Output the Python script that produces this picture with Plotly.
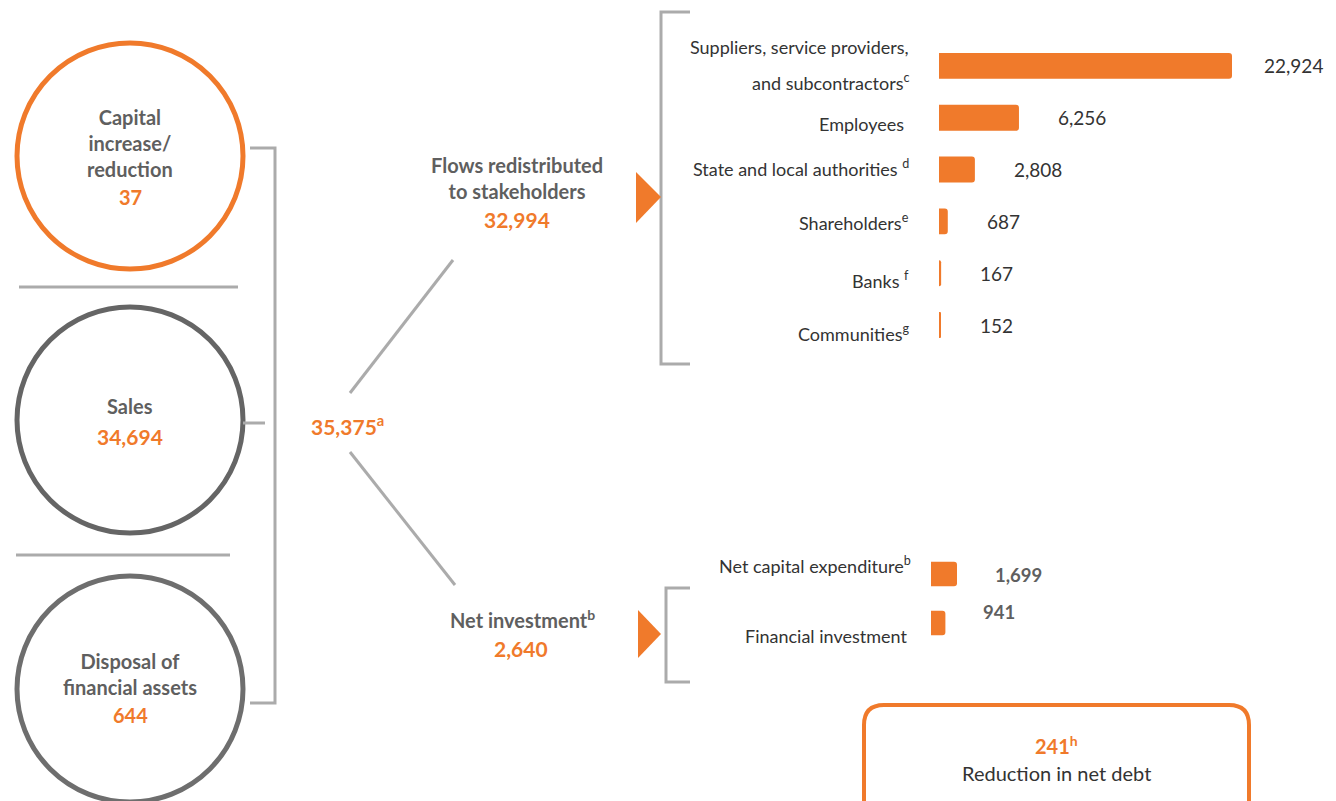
import plotly.graph_objects as go

W, H = 1336, 801
OFF = 8  # page body margin
ORANGE = "#F07A2B"
GRAY_TXT = "#5F5F5F"
DARK_TXT = "#333333"
LINE = "#ABABAB"
FONT = "Lato"

# ---- data
sources = ["Capital<br>increase/<br>reduction", "Sales", "Disposal of<br>financial assets"]
source_values = ["37", "34,694", "644"]
total_value = "35,375"

stake_labels = [
    "Suppliers, service providers,<br>and subcontractors<sup>c</sup>",
    "Employees ",
    "State and local authorities <sup>d</sup>",
    "Shareholders<sup>e</sup>",
    "Banks <sup>f</sup>",
    "Communities<sup>g</sup>",
]
stake_values = [22924, 6256, 2808, 687, 167, 152]
stake_total = "32,994"

invest_labels = ["Net capital expenditure<sup>b</sup>", "Financial investment "]
invest_values = [1699, 941]
invest_total = "2,640"

debt_value = "241"


def fx(px):
    return (px - OFF) / (W - OFF)


def fy(py):
    return 1 - (py - OFF) / (H - OFF)


fig = go.Figure()

# ---- bars (own axes)
fig.add_trace(go.Bar(
    x=stake_values, y=list(range(len(stake_values))), orientation="h",
    marker=dict(color=ORANGE, line=dict(width=0)), width=0.5,
    xaxis="x2", yaxis="y2", hoverinfo="skip",
))
fig.add_trace(go.Bar(
    x=invest_values, y=list(range(len(invest_values))), orientation="h",
    marker=dict(color=ORANGE, line=dict(width=0)), width=0.5,
    xaxis="x3", yaxis="y3", hoverinfo="skip",
))

ann = []
LBL = dict(family=FONT, size=18, color=DARK_TXT)

# stakeholder labels + values
label_dy = [0, -6, 2, -1, -7, -8]
for i, (lab, v) in enumerate(zip(stake_labels, stake_values)):
    lines = lab.split("<br>")
    if len(lines) == 2:
        for ln, dy in zip(lines, [19, -16]):
            ann.append(dict(x=0, y=i, xref="x2", yref="y2", text=ln, showarrow=False,
                            xanchor="right", xshift=-28, yshift=dy, font=LBL))
    else:
        ann.append(dict(x=0, y=i, xref="x2", yref="y2", text=lab, showarrow=False,
                        xanchor="right", xshift=-28, yshift=label_dy[i], font=LBL))
    ann.append(dict(x=v, y=i, xref="x2", yref="y2", text=f"{v:,}", showarrow=False,
                    xanchor="left", xshift=30 if i == 0 else 37,
                    font=dict(family=FONT, size=19, color=DARK_TXT)))

inv_label_dy = [9, -13]
inv_value_dy = [-1, 11]
for i, (lab, v) in enumerate(zip(invest_labels, invest_values)):
    ann.append(dict(x=0, y=i, xref="x3", yref="y3", text=lab, showarrow=False,
                    xanchor="right", xshift=-18, yshift=inv_label_dy[i], font=LBL))
    ann.append(dict(x=v, y=i, xref="x3", yref="y3", text=f"<b>{v:,}</b>", showarrow=False,
                    xanchor="left", xshift=36, yshift=inv_value_dy[i],
                    font=dict(family=FONT, size=18.5, color=GRAY_TXT)))


def txt(x, y, text, size, color, bold=True, **kw):
    t = f"<b>{text}</b>" if bold else text
    d = dict(x=x, y=y, xref="x", yref="y", text=t, showarrow=False,
             font=dict(family=FONT, size=size, color=color))
    d.update(kw)
    ann.append(d)


# source circles
circle_cy = [156, 420, 689]
circle_col = [ORANGE, "#656565", "#6E6E6E"]
label_y = [143, 406, 674]
value_y = [197, 436, 715]
for i in range(3):
    txt(130, label_y[i], sources[i], 20, GRAY_TXT, yanchor="middle")
    txt(130, value_y[i], source_values[i], 21 if i == 1 else 20, ORANGE)

txt(347, 425, total_value + "<sup>a</sup>", 21, ORANGE)
txt(517, 178, "Flows redistributed<br>to stakeholders", 20, GRAY_TXT)
txt(517, 219, stake_total, 21, ORANGE)
txt(522, 619, "Net investment<sup>b</sup>", 20, GRAY_TXT)
txt(521, 648, invest_total, 21, ORANGE)
txt(1056, 745, debt_value + "<sup>h</sup>", 20, ORANGE)
txt(1056, 773, "Reduction in net debt", 20, DARK_TXT, bold=False)

# ---- shapes
shapes = []
for cy, col in zip(circle_cy, circle_col):
    r = 113
    shapes.append(dict(type="circle", xref="x", yref="y", x0=130 - r, x1=130 + r,
                       y0=cy - r, y1=cy + r, line=dict(color=col, width=5)))


def seg(x0, y0, x1, y1, w=3, col=LINE):
    shapes.append(dict(type="line", xref="x", yref="y", x0=x0, y0=y0, x1=x1, y1=y1,
                       line=dict(color=col, width=w)))


seg(19, 287, 238, 287)
seg(16, 555, 230, 555)
# left bracket
shapes.append(dict(type="path", xref="x", yref="y",
                   path="M 250 148 L 275 148 L 275 703 L 250 703",
                   line=dict(color=LINE, width=3)))
seg(243, 423, 265, 423)
# diagonals
seg(350, 393, 453, 260)
seg(350, 452, 455, 585)
# right brackets
shapes.append(dict(type="path", xref="x", yref="y",
                   path="M 690 12 L 661 12 L 661 364 L 690 364",
                   line=dict(color=LINE, width=3)))
shapes.append(dict(type="path", xref="x", yref="y",
                   path="M 690 588 L 666 588 L 666 682 L 690 682",
                   line=dict(color=LINE, width=3)))
# triangles
shapes.append(dict(type="path", xref="x", yref="y",
                   path="M 636 172 L 661 197 L 636 223 Z",
                   fillcolor=ORANGE, line=dict(width=0)))
shapes.append(dict(type="path", xref="x", yref="y",
                   path="M 638 610 L 661 634 L 638 658 Z",
                   fillcolor=ORANGE, line=dict(width=0)))
# rounded box
x0, x1, y0, y1, rr = 864, 1249, 705, 830, 20
shapes.append(dict(type="path", xref="x", yref="y",
                   path=(f"M {x0+rr} {y0} L {x1-rr} {y0} Q {x1} {y0} {x1} {y0+rr} "
                         f"L {x1} {y1} L {x0} {y1} L {x0} {y0+rr} Q {x0} {y0} {x0+rr} {y0} Z"),
                   line=dict(color=ORANGE, width=4)))

hidden = dict(visible=False, showgrid=False, zeroline=False, fixedrange=True)

stake_r = stake_values[0] * (W - 939) / 293
inv_r = invest_values[0] * (W - 931) / 26

fig.update_layout(
    width=W - OFF, height=H - OFF,
    margin=dict(l=0, r=0, t=0, b=0),
    paper_bgcolor="white", plot_bgcolor="rgba(0,0,0,0)",
    showlegend=False, barcornerradius=3,
    xaxis=dict(range=[OFF, W], domain=[0, 1], **hidden),
    yaxis=dict(range=[H, OFF], domain=[0, 1], **hidden),
    xaxis2=dict(range=[0, stake_r], domain=[fx(939), 1], anchor="y2", **hidden),
    yaxis2=dict(range=[5.5, -0.5], domain=[fy(351), fy(40)], anchor="x2", **hidden),
    xaxis3=dict(range=[0, inv_r], domain=[fx(931), 1], anchor="y3", **hidden),
    yaxis3=dict(range=[1.5, -0.5], domain=[fy(647.5), fy(549.5)], anchor="x3", **hidden),
    shapes=shapes, annotations=ann,
)

fig.write_html("out.html", config={"displayModeBar": False})
